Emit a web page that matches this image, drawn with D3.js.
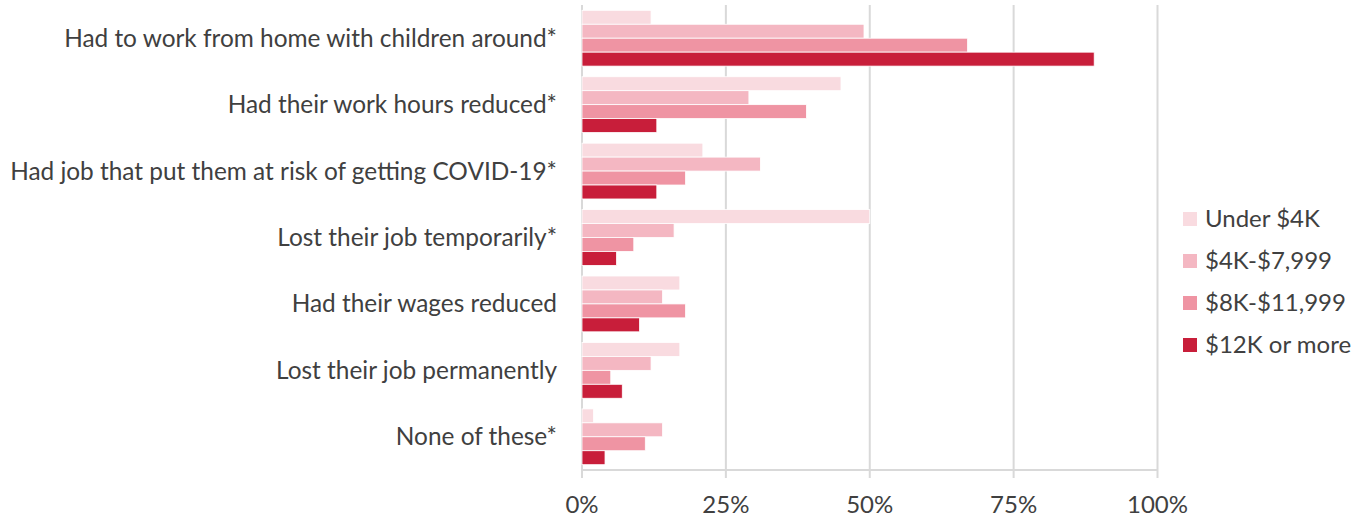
<!DOCTYPE html>
<html>
<head>
<meta charset="utf-8">
<script src="https://cdn.jsdelivr.net/npm/d3@7"></script>
<style>
  body { margin: 0; background: #fff; }
  text { font-family: Lato, "Open Sans", sans-serif; fill: #404040; }
</style>
</head>
<body>
<div id="chart"></div>
<script>
const categories = [
  "Had to work from home with children around*",
  "Had their work hours reduced*",
  "Had job that put them at risk of getting COVID-19*",
  "Lost their job temporarily*",
  "Had their wages reduced",
  "Lost their job permanently",
  "None of these*"
];
const seriesNames = ["Under $4K", "$4K-$7,999", "$8K-$11,999", "$12K or more"];
const under4k   = [12, 45, 21, 50, 17, 17, 2];
const k4to8     = [49, 29, 31, 16, 14, 12, 14];
const k8to12    = [67, 39, 18, 9, 18, 5, 11];
const k12plus   = [89, 13, 13, 6, 10, 7, 4];
const tickValues = [0, 25, 50, 75, 100];
const colors = ["#f9dbe0", "#f4b7c2", "#ef94a3", "#c81e3a"];

const allSeries = [under4k, k4to8, k8to12, k12plus];

const width = 1368;
const height = 521;
const svg = d3.select("#chart").append("svg").attr("width", width).attr("height", height);

const x = d3.scaleLinear().domain([0, 100]).range([582, 1157.5]);
const y = d3.scaleBand().domain(categories).range([5, 470]).paddingInner(0.16).paddingOuter(0.08);
const sub = d3.scaleBand().domain(seriesNames).range([0, y.bandwidth()]);

// gridlines
svg.append("g")
  .selectAll("line")
  .data(tickValues)
  .join("line")
  .attr("x1", d => x(d)).attr("x2", d => x(d))
  .attr("y1", 5).attr("y2", 478)
  .attr("stroke", "#d9d9d9").attr("stroke-width", 2);

// axis line
svg.append("line")
  .attr("x1", x(0)).attr("x2", x(100))
  .attr("y1", 470).attr("y2", 470)
  .attr("stroke", "#d9d9d9").attr("stroke-width", 2);

// bars
const groups = svg.append("g")
  .selectAll("g")
  .data(categories)
  .join("g")
  .attr("transform", d => `translate(0,${y(d)})`);

groups.selectAll("rect")
  .data((c, i) => seriesNames.map((s, j) => ({ s, j, v: allSeries[j][i] })))
  .join("rect")
  .attr("x", x(0))
  .attr("y", d => sub(d.s))
  .attr("width", d => x(d.v) - x(0))
  .attr("height", sub.bandwidth())
  .attr("fill", d => colors[d.j])
  .attr("stroke", "#fff")
  .attr("stroke-width", 0.8);

// category labels
svg.append("g")
  .selectAll("text")
  .data(categories)
  .join("text")
  .attr("x", 557)
  .attr("y", d => y(d) + y.bandwidth() / 2)
  .attr("dy", "0.35em")
  .attr("text-anchor", "end")
  .style("font-size", "24.4px")
  .text(d => d);

// x tick labels
svg.append("g")
  .selectAll("text")
  .data(tickValues)
  .join("text")
  .attr("x", d => x(d))
  .attr("y", 505)
  .attr("dy", "0.35em")
  .attr("text-anchor", "middle")
  .style("font-size", "24px")
  .text(d => d + "%");

// legend
const legend = svg.append("g")
  .selectAll("g")
  .data(seriesNames)
  .join("g")
  .attr("transform", (d, i) => `translate(1183,${219 + i * 42})`);

legend.append("rect")
  .attr("x", 0).attr("y", -7)
  .attr("width", 14).attr("height", 14)
  .attr("fill", (d, i) => colors[i]);

legend.append("text")
  .attr("x", 22)
  .attr("dy", "0.35em")
  .style("font-size", "24px")
  .text(d => d);
</script>
</body>
</html>
